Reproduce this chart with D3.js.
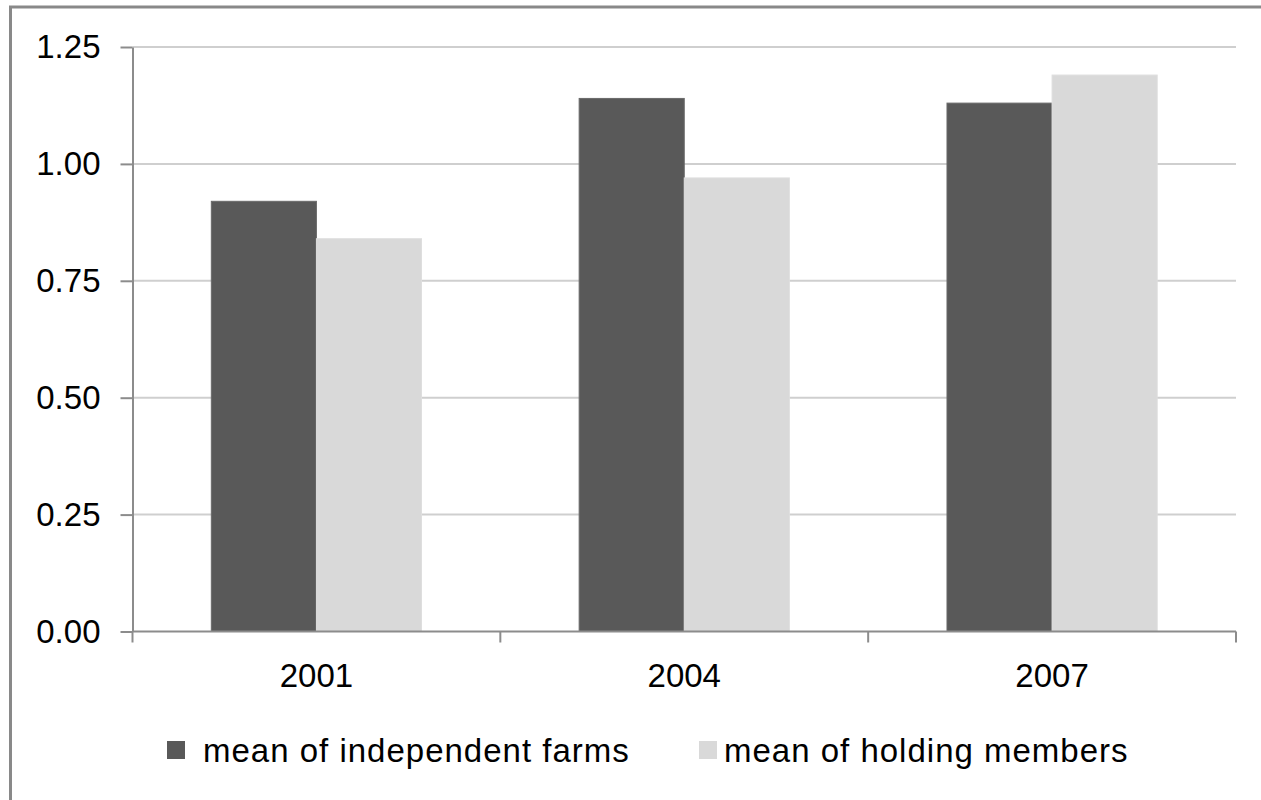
<!DOCTYPE html>
<html>
<head>
<meta charset="utf-8">
<script src="https://cdn.jsdelivr.net/npm/d3@7"></script>
<style>
  body { margin: 0; background: #fff; }
  svg { display: block; font-family: "Liberation Sans", Arial, sans-serif; }
</style>
</head>
<body>
<svg id="chart"></svg>
<script>
const w = 1261;
const h = 800;

// data
const years = ["2001", "2004", "2007"];
const seriesNames = ["mean of independent farms", "mean of holding members"];
const independentFarms = [0.92, 1.14, 1.13];
const holdingMembers = [0.84, 0.97, 1.19];
const yTicks = [0, 0.25, 0.5, 0.75, 1.0, 1.25];

const colors = ["#595959", "#d9d9d9"];
const seriesValues = [independentFarms, holdingMembers];

const svg = d3.select("#chart")
  .attr("width", w)
  .attr("height", h);

// outer frame (right and bottom edges fall outside the picture)
svg.append("rect")
  .attr("x", 10.5)
  .attr("y", 7)
  .attr("width", 1400)
  .attr("height", 1000)
  .attr("fill", "none")
  .attr("stroke", "#898989")
  .attr("stroke-width", 3);

const plotLeft = 132.5, plotRight = 1236, plotTop = 47, plotBottom = 631.5;

const x0 = d3.scaleBand()
  .domain(years)
  .range([plotLeft, plotRight])
  .padding(0);

const x1 = d3.scaleBand()
  .domain(d3.range(seriesNames.length))
  .range([0, x0.bandwidth()])
  .paddingInner(0)
  .paddingOuter(0.75);

const y = d3.scaleLinear()
  .domain([0, 1.25])
  .range([plotBottom, plotTop]);

// gridlines
svg.append("g")
  .selectAll("line")
  .data(yTicks.filter(d => d > 0))
  .enter()
  .append("line")
  .attr("x1", plotLeft)
  .attr("x2", plotRight)
  .attr("y1", d => y(d))
  .attr("y2", d => y(d))
  .attr("stroke", "#cfcfcf")
  .attr("stroke-width", 2);

// bars
const rows = years.map((yr, i) => ({ year: yr, values: seriesValues.map(s => s[i]) }));

svg.append("g")
  .selectAll("g")
  .data(rows)
  .enter()
  .append("g")
  .attr("transform", d => `translate(${x0(d.year)},0)`)
  .selectAll("rect")
  .data(d => d.values.map((v, k) => ({ k: k, v: v })))
  .enter()
  .append("rect")
  .attr("x", d => x1(d.k))
  .attr("y", d => y(d.v))
  .attr("width", x1.bandwidth())
  .attr("height", d => y(0) - y(d.v))
  .attr("fill", d => colors[d.k])
  .attr("stroke", d => d.k === 0 ? "#6a6a6a" : "#dedede")
  .attr("stroke-width", 1);

// y axis
const yAxis = d3.axisLeft(y)
  .tickValues(yTicks)
  .tickFormat(d3.format(".2f"))
  .tickSize(12)
  .tickSizeOuter(0)
  .tickPadding(20);

const yg = svg.append("g")
  .attr("transform", `translate(${plotLeft},0)`)
  .call(yAxis);
yg.select(".domain").attr("stroke", "#8c8c8c").attr("stroke-width", 2);
yg.selectAll(".tick line").attr("stroke", "#8c8c8c").attr("stroke-width", 2);
yg.selectAll("text")
  .attr("font-size", 33)
  .attr("font-family", "Liberation Sans, Arial, sans-serif")
  .attr("fill", "#000");

// x axis: baseline, boundary ticks, centred labels
const xg = svg.append("g");
xg.append("line")
  .attr("x1", plotLeft)
  .attr("x2", plotRight)
  .attr("y1", plotBottom)
  .attr("y2", plotBottom)
  .attr("stroke", "#8c8c8c")
  .attr("stroke-width", 2);

const bounds = years.map(d => x0(d)).concat([plotRight]);
xg.selectAll("line.tick")
  .data(bounds)
  .enter()
  .append("line")
  .attr("class", "tick")
  .attr("x1", d => d)
  .attr("x2", d => d)
  .attr("y1", plotBottom)
  .attr("y2", plotBottom + 11)
  .attr("stroke", "#8c8c8c")
  .attr("stroke-width", 2);

xg.selectAll("text")
  .data(years)
  .enter()
  .append("text")
  .attr("x", d => x0(d) + x0.bandwidth() / 2)
  .attr("y", 687)
  .attr("text-anchor", "middle")
  .attr("font-size", 33)
  .attr("fill", "#000")
  .text(d => d);

// legend
const legendX = [167, 699];
const legendTextX = [203, 724];
const legend = svg.append("g")
  .selectAll("g")
  .data(seriesNames)
  .enter()
  .append("g");

legend.append("rect")
  .attr("x", (d, i) => legendX[i])
  .attr("y", 741)
  .attr("width", 18)
  .attr("height", 18)
  .attr("fill", (d, i) => colors[i]);

legend.append("text")
  .attr("x", (d, i) => legendTextX[i])
  .attr("y", 762)
  .attr("font-size", 33)
  .attr("letter-spacing", 1)
  .attr("fill", "#000")
  .text(d => d);
</script>
</body>
</html>
